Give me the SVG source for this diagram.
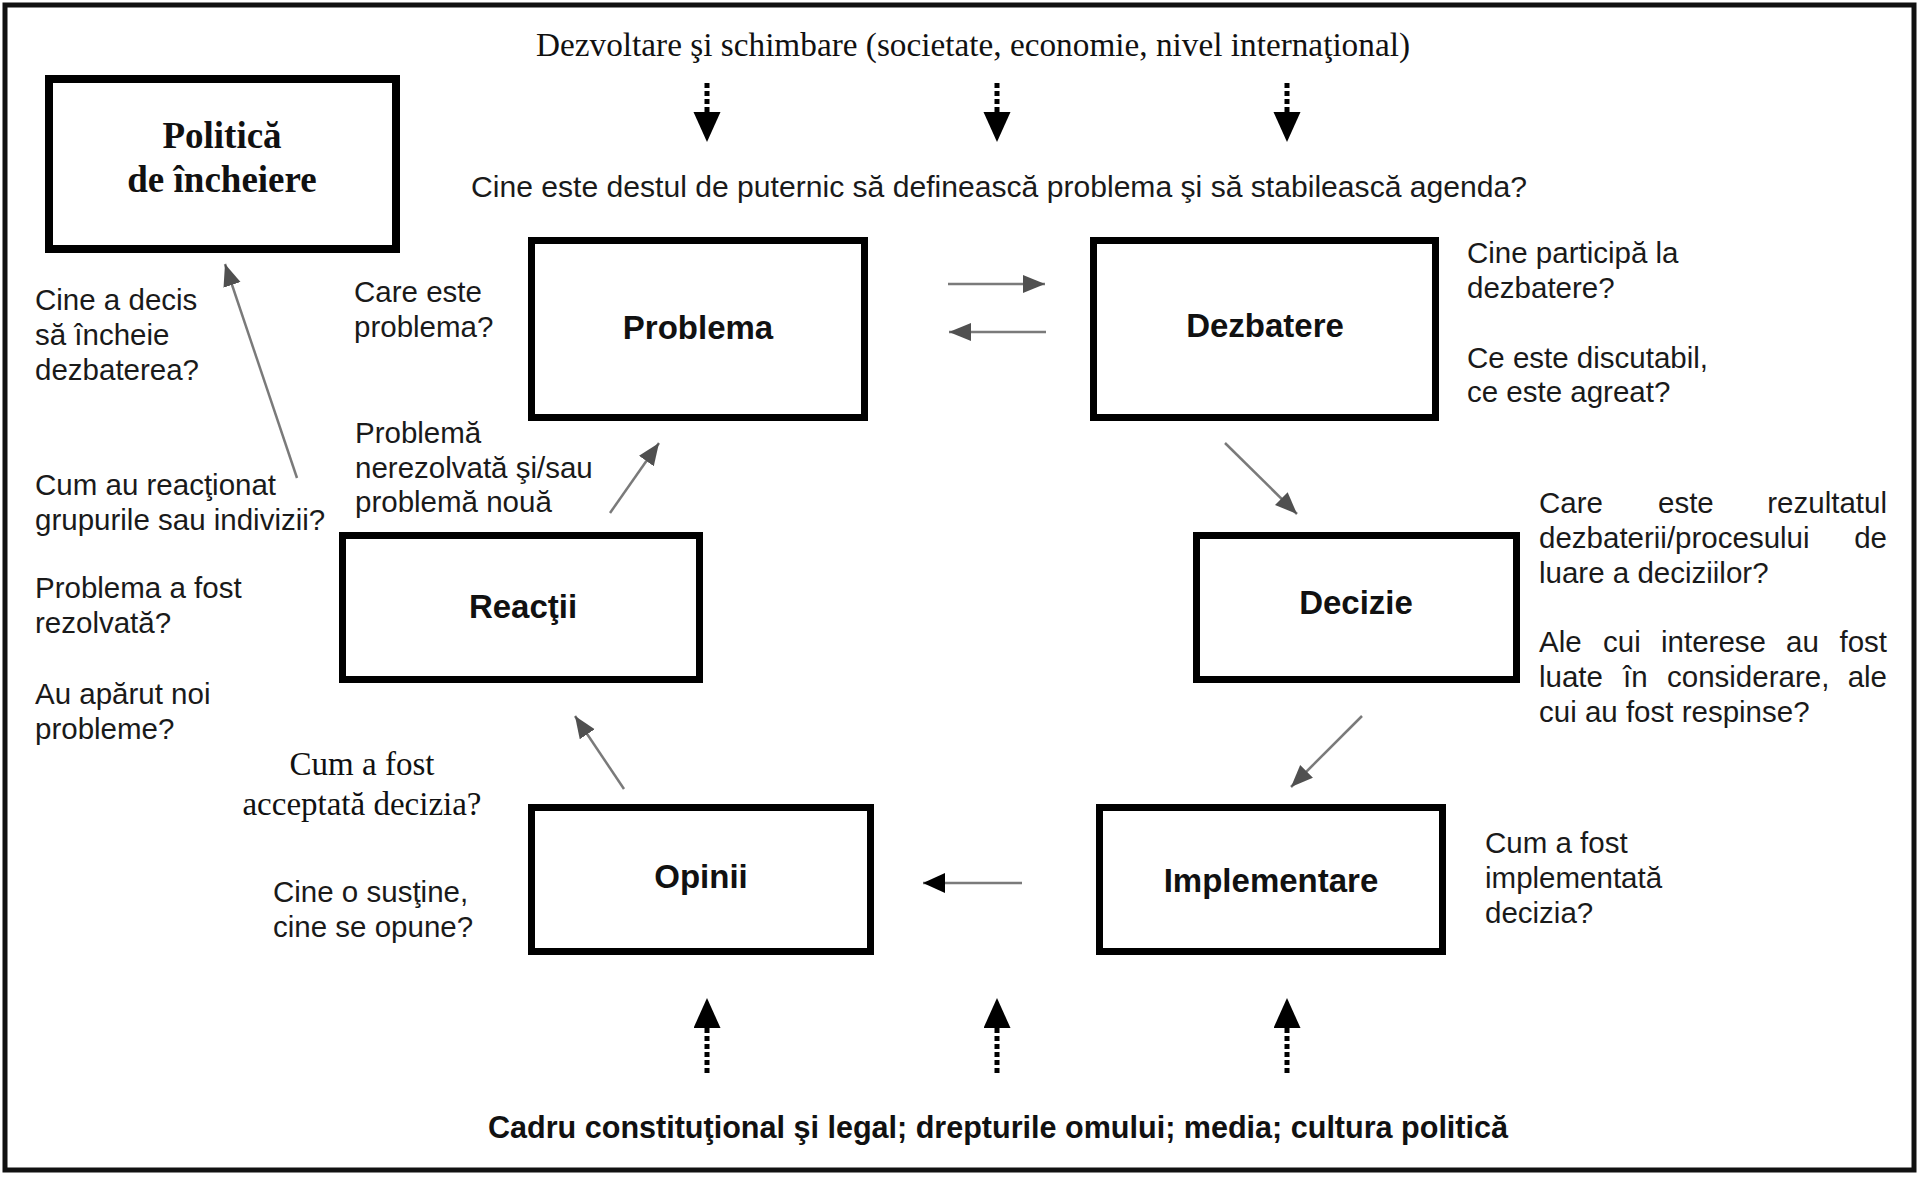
<svg xmlns="http://www.w3.org/2000/svg" width="1918" height="1178" viewBox="0 0 1918 1178">
<defs>
<style>
.box{fill:#fff;stroke:#000;stroke-width:7}
.lbl{font-family:"Liberation Sans",Arial,sans-serif;font-weight:bold;font-size:33px;fill:#111;text-anchor:middle}
.q{font-family:"Liberation Sans",Arial,sans-serif;font-size:29.5px;fill:#1a1a1a}
.tm{font-family:"Liberation Serif","Times New Roman",serif;fill:#111}
.conn{stroke:#7a7a7a;stroke-width:2.5;fill:none}
.dash{stroke:#000;stroke-width:5;stroke-dasharray:5 3;fill:none}
</style>
<marker id="ah" markerUnits="userSpaceOnUse" markerWidth="24" markerHeight="20" refX="22" refY="9" orient="auto" viewBox="0 0 24 20">
<path d="M0,0 L22,9 L0,18 z" fill="#505050"/>
</marker>
<marker id="ahb" markerUnits="userSpaceOnUse" markerWidth="24" markerHeight="22" refX="22" refY="10" orient="auto" viewBox="0 0 24 22">
<path d="M0,0 L22,10 L0,20 z" fill="#000"/>
</marker>
<marker id="dh" markerUnits="userSpaceOnUse" markerWidth="32" markerHeight="28" refX="0" refY="13.5" orient="auto" viewBox="0 0 32 28">
<path d="M0,0 L30,13.5 L0,27 z" fill="#000"/>
</marker>
</defs>
<rect x="0" y="0" width="1918" height="1178" fill="#fff"/>
<rect x="5" y="5" width="1909" height="1165" fill="none" stroke="#111" stroke-width="5"/>

<text class="tm" x="536" y="56" font-size="34" textLength="874" lengthAdjust="spacingAndGlyphs">Dezvoltare şi schimbare (societate, economie, nivel internaţional)</text>
<text class="q" x="471" y="197" font-size="30" textLength="1056" lengthAdjust="spacingAndGlyphs">Cine este destul de puternic să definească problema şi să stabilească agenda?</text>

<g id="connectors">
<path class="dash" d="M707,83 L707,112" marker-end="url(#dh)"/>
<path class="dash" d="M997,83 L997,112" marker-end="url(#dh)"/>
<path class="dash" d="M1287,83 L1287,112" marker-end="url(#dh)"/>
<path class="dash" d="M707,1073 L707,1028" marker-end="url(#dh)"/>
<path class="dash" d="M997,1073 L997,1028" marker-end="url(#dh)"/>
<path class="dash" d="M1287,1073 L1287,1028" marker-end="url(#dh)"/>
<path class="conn" d="M948,284 L1045,284" marker-end="url(#ah)"/>
<path class="conn" d="M1046,332 L949,332" marker-end="url(#ah)"/>
<path class="conn" d="M1225,443 L1297,514" marker-end="url(#ah)"/>
<path class="conn" d="M1362,716 L1291,787" marker-end="url(#ah)"/>
<path class="conn" d="M1022,883 L923,883" marker-end="url(#ahb)"/>
<path class="conn" d="M624,789 L575,716" marker-end="url(#ah)"/>
<path class="conn" d="M610,513 L659,443" marker-end="url(#ah)"/>
<path class="conn" d="M297,478 L225,264" marker-end="url(#ah)"/>
</g>

<g id="node-politica">
<rect x="49" y="79" width="347" height="170" fill="#fff" stroke="#000" stroke-width="8"/>
<text class="tm" x="222" y="148" font-size="37" font-weight="bold" text-anchor="middle">Politică</text>
<text class="tm" x="222" y="192" font-size="37" font-weight="bold" text-anchor="middle">de încheiere</text>
</g>

<g id="node-problema">
<rect class="box" x="531.5" y="240.5" width="333" height="177"/>
<text class="lbl" x="698" y="339">Problema</text>
</g>

<g id="node-dezbatere">
<rect class="box" x="1093.5" y="240.5" width="342" height="177"/>
<text class="lbl" x="1265" y="337">Dezbatere</text>
</g>

<g id="node-decizie">
<rect class="box" x="1196.5" y="535.5" width="320" height="144"/>
<text class="lbl" x="1356" y="614">Decizie</text>
</g>

<g id="node-reactii">
<rect class="box" x="342.5" y="535.5" width="357" height="144"/>
<text class="lbl" x="523" y="618">Reacţii</text>
</g>

<g id="node-opinii">
<rect class="box" x="531.5" y="807.5" width="339" height="144"/>
<text class="lbl" x="701" y="888">Opinii</text>
</g>

<g id="node-implementare">
<rect class="box" x="1099.5" y="807.5" width="343" height="144"/>
<text class="lbl" x="1271" y="892">Implementare</text>
</g>

<g id="questions">
<text class="q" x="35" y="310">Cine a decis</text>
<text class="q" x="35" y="345">să încheie</text>
<text class="q" x="35" y="380">dezbaterea?</text>
<text class="q" x="35" y="495">Cum au reacţionat</text>
<text class="q" x="35" y="530">grupurile sau indivizii?</text>
<text class="q" x="35" y="598">Problema a fost</text>
<text class="q" x="35" y="633">rezolvată?</text>
<text class="q" x="35" y="704">Au apărut noi</text>
<text class="q" x="35" y="739">probleme?</text>

<text class="q" x="354" y="302">Care este</text>
<text class="q" x="354" y="337">problema?</text>
<text class="q" x="355" y="443">Problemă</text>
<text class="q" x="355" y="478">nerezolvată şi/sau</text>
<text class="q" x="355" y="512">problemă nouă</text>

<text class="q" x="1467" y="263">Cine participă la</text>
<text class="q" x="1467" y="298">dezbatere?</text>
<text class="q" x="1467" y="368">Ce este discutabil,</text>
<text class="q" x="1467" y="402">ce este agreat?</text>

<text class="q" x="1539" y="513">Care</text>
<text class="q" x="1658" y="513">este</text>
<text class="q" x="1887" y="513" text-anchor="end">rezultatul</text>
<text class="q" x="1539" y="548">dezbaterii/procesului</text>
<text class="q" x="1887" y="548" text-anchor="end">de</text>
<text class="q" x="1539" y="583">luare a deciziilor?</text>
<text class="q" x="1539" y="652">Ale</text>
<text class="q" x="1603" y="652">cui</text>
<text class="q" x="1661" y="652">interese</text>
<text class="q" x="1786" y="652">au</text>
<text class="q" x="1887" y="652" text-anchor="end">fost</text>
<text class="q" x="1539" y="687">luate</text>
<text class="q" x="1623" y="687">în</text>
<text class="q" x="1667" y="687">considerare,</text>
<text class="q" x="1887" y="687" text-anchor="end">ale</text>
<text class="q" x="1539" y="722">cui au fost respinse?</text>

<text class="q" x="1485" y="853">Cum a fost</text>
<text class="q" x="1485" y="888">implementată</text>
<text class="q" x="1485" y="923">decizia?</text>

<text class="tm" x="362" y="775" font-size="33" text-anchor="middle">Cum a fost</text>
<text class="tm" x="362" y="815" font-size="33" text-anchor="middle">acceptată decizia?</text>
<text class="q" x="273" y="902">Cine o susţine,</text>
<text class="q" x="273" y="937">cine se opune?</text>
</g>

<text x="488" y="1138" font-family="Liberation Sans, Arial, sans-serif" font-weight="bold" font-size="30.5" fill="#111" textLength="1020" lengthAdjust="spacingAndGlyphs">Cadru constituţional şi legal; drepturile omului; media; cultura politică</text>
</svg>
